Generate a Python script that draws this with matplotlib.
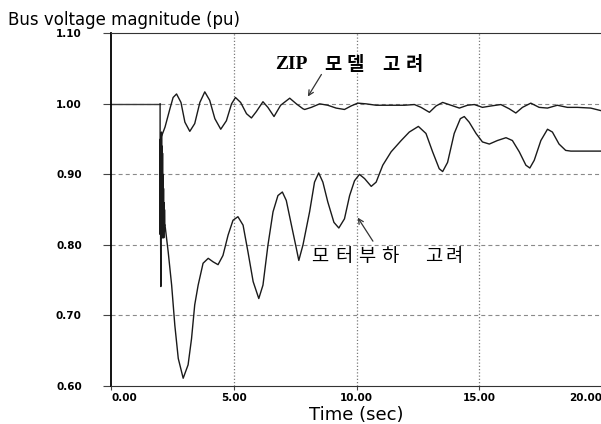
import matplotlib.pyplot as plt

plt.rcParams['font.family'] = ['DejaVu Sans']

# pre-fault steady state
t_pre = [0.0, 2.0]
v_pre = [1.0, 1.0]

# fault transient at t = 2 s (fast oscillation + spike)
t_fault = [2.00, 2.00, 2.01, 2.02, 2.03, 2.04, 2.05, 2.06, 2.07, 2.08, 2.09,
           2.10, 2.11, 2.12, 2.13, 2.14, 2.15, 2.16, 2.17, 2.18, 2.19, 2.20]
v_fault = [1.00, 0.815, 0.95, 0.82, 0.741, 0.94, 0.82, 0.96, 0.81, 0.94, 0.82,
           0.93, 0.81, 0.90, 0.82, 0.88, 0.81, 0.86, 0.82, 0.85, 0.83, 0.828]

# ZIP load model
t_zip = [2.07, 2.20, 2.40, 2.53, 2.67, 2.85, 3.01, 3.21, 3.41, 3.62, 3.82, 4.02,
         4.23, 4.47, 4.70, 4.91, 5.07, 5.28, 5.52, 5.72, 5.92, 6.19, 6.39, 6.64,
         6.91, 7.28, 7.55, 7.82, 7.89, 8.16, 8.50, 8.83, 9.17, 9.51, 9.78, 10.05,
         10.39, 10.80, 11.41, 11.95, 12.36, 12.63, 12.97, 13.24, 13.51, 13.85,
         14.19, 14.52, 14.80, 15.13, 15.48, 15.88, 16.22, 16.49, 16.76, 17.10,
         17.44, 17.78, 18.18, 18.59, 19.00, 19.54, 20.0]
v_zip = [0.955, 0.967, 0.993, 1.009, 1.014, 1.002, 0.974, 0.961, 0.972, 1.002,
         1.017, 1.005, 0.979, 0.964, 0.976, 1.000, 1.009, 1.002, 0.986, 0.980,
         0.989, 1.003, 0.995, 0.982, 0.998, 1.008, 1.000, 0.993, 0.992, 0.995,
         1.000, 0.998, 0.994, 0.992, 0.997, 1.001, 1.000, 0.998, 0.998, 0.998,
         0.999, 0.995, 0.988, 0.997, 1.002, 0.998, 0.994, 0.998, 0.999, 0.995,
         0.997, 0.999, 0.993, 0.987, 0.995, 1.001, 0.995, 0.994, 0.998, 0.995,
         0.995, 0.994, 0.990]

# motor load model
t_motor = [2.20, 2.33, 2.47, 2.60, 2.74, 2.94, 3.14, 3.28, 3.41, 3.55, 3.75,
           3.96, 4.16, 4.36, 4.56, 4.77, 4.97, 5.17, 5.38, 5.58, 5.79, 6.02,
           6.19, 6.39, 6.60, 6.80, 6.98, 7.14, 7.35, 7.55, 7.65, 7.82, 8.09,
           8.29, 8.46, 8.63, 8.83, 9.08, 9.28, 9.51, 9.72, 9.92, 10.12, 10.33,
           10.60, 10.80, 11.07, 11.41, 11.82, 12.15, 12.52, 12.83, 13.10, 13.37,
           13.51, 13.71, 13.98, 14.23, 14.39, 14.59, 14.87, 15.13, 15.41, 15.74,
           16.09, 16.35, 16.63, 16.90, 17.06, 17.24, 17.51, 17.78, 17.98, 18.25,
           18.52, 18.73, 20.0]
v_motor = [0.828, 0.790, 0.743, 0.686, 0.639, 0.611, 0.630, 0.667, 0.715, 0.743,
           0.774, 0.781, 0.776, 0.772, 0.785, 0.814, 0.835, 0.840, 0.828, 0.790,
           0.748, 0.724, 0.743, 0.799, 0.847, 0.870, 0.875, 0.863, 0.828, 0.795,
           0.778, 0.800, 0.847, 0.889, 0.902, 0.889, 0.861, 0.832, 0.824, 0.837,
           0.870, 0.891, 0.900, 0.894, 0.883, 0.889, 0.913, 0.932, 0.948, 0.960,
           0.968, 0.958, 0.932, 0.908, 0.904, 0.917, 0.958, 0.979, 0.982, 0.974,
           0.958, 0.946, 0.943, 0.948, 0.952, 0.948, 0.932, 0.913, 0.909, 0.920,
           0.948, 0.964, 0.960, 0.943, 0.934, 0.933, 0.933]

xticks = [0, 5, 10, 15, 20]
xticklabels = ['0.00', '5.00', '10.00', '15.00', '20.00']
yticks = [0.6, 0.7, 0.8, 0.9, 1.0, 1.1]
yticklabels = ['0.60', '0.70', '0.80', '0.90', '1.00', '1.10']

fig = plt.figure(figsize=(6.01, 4.24), dpi=100)
ax = fig.add_axes([111 / 601, 1 - 386 / 424, 491 / 601, 352.7 / 424])

lc = '#1a1a1a'
ax.plot(t_pre, v_pre, color='#3a3a3a', lw=1.0)
ax.plot(t_fault, v_fault, color=lc, lw=1.0)
ax.plot(t_zip, v_zip, color=lc, lw=1.0)
ax.plot(t_motor, v_motor, color=lc, lw=1.0)

ax.set_xlim(0, 20)
ax.set_ylim(0.6, 1.1)

# grid: dashed horizontals, dotted verticals
for y in [0.7, 0.8, 0.9, 1.0]:
    ax.axhline(y, color='#8a8a8a', lw=0.8, dashes=(3.6, 2.8), zorder=0)
for x in [5, 10, 15]:
    ax.axvline(x, color='#7a7a7a', lw=0.9, dashes=(1.0, 1.6), zorder=0)

ax.spines['right'].set_visible(False)
ax.spines['left'].set_color('black')
ax.spines['left'].set_linewidth(1.3)
ax.spines['top'].set_color('#333333')
ax.spines['bottom'].set_color('#333333')

ax.set_yticks(yticks)
ax.set_yticklabels(yticklabels, fontsize=7.5, fontweight='bold')
ax.set_xticks(xticks)
xt = ax.set_xticklabels(xticklabels, fontsize=7.5, fontweight='bold')
xt[0].set_ha('left')
xt[-1].set_ha('right')
ax.tick_params(axis='y', length=6, width=0.8, color='#444444', pad=15)
ax.tick_params(axis='x', length=3, width=0.8, color='#444444', pad=2)

fig.text(8 / 601, 1 - 25 / 424, 'Bus voltage magnitude (pu)', fontsize=12,
         va='baseline', ha='left')
fig.text(356 / 601, 1 - 420 / 424, 'Time (sec)', fontsize=13,
         va='baseline', ha='center')

# annotations (hangul spread out like the original wide rendering)
kfont = ['Noto Sans CJK KR', 'DejaVu Sans']
ax.text(7.34, 1.056, 'ZIP', family=['Liberation Serif'], fontweight='bold',
        fontsize=14, ha='center', va='center')
for ch, x in zip('모델고려', [9.02, 9.96, 11.42, 12.36]):
    ax.text(x, 1.056, ch, family=kfont, fontweight='bold', fontsize=13.5,
            ha='center', va='center')
for ch, x in zip('모터부하고려', [8.49, 9.47, 10.41, 11.34, 13.13, 13.98]):
    ax.text(x, 0.784, ch, family=kfont, fontsize=13.5,
            ha='center', va='center')

ax.annotate('', xy=(7.96, 1.007), xytext=(8.63, 1.045),
            arrowprops=dict(arrowstyle='->', color='#333333', lw=0.9,
                            mutation_scale=9))
ax.annotate('', xy=(9.99, 0.842), xytext=(10.73, 0.802),
            arrowprops=dict(arrowstyle='->', color='#333333', lw=0.9,
                            mutation_scale=9))

fig.savefig('out.png', dpi=100)
